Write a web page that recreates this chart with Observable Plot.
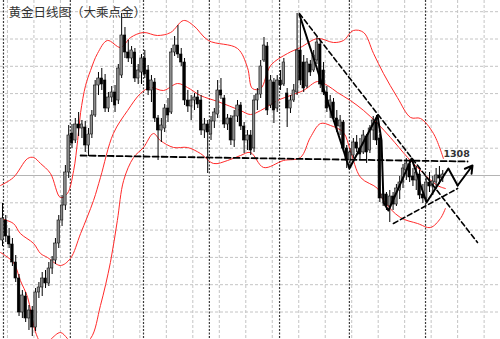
<!DOCTYPE html>
<html><head><meta charset="utf-8">
<script src="https://cdn.jsdelivr.net/npm/d3@7"></script>
<script src="https://cdn.jsdelivr.net/npm/@observablehq/plot@0.6"></script>
<style>html,body{margin:0;padding:0;background:#fff}</style>
</head><body><div id="chart"></div>
<script>
const title = "黄金日线图（大乘点金）";
const levelLabel = "1308";

const openP = [1223,1243,1227,1219,1201,1185,1151,1167,1145,1153,
1136,1171,1176,1185,1180,1195,1203,1220,1243,1258,
1291,1330,1323,1339,1335,1336,1318,1329,1348,1378,
1385,1383,1355,1366,1371,1363,1388,1428,1411,1405,
1411,1385,1391,1405,1393,1373,1381,1345,1333,1335,
1355,1351,1411,1418,1409,1401,1363,1357,1363,1366,
1363,1333,1339,1329,1342,1349,1373,1365,1339,1345,
1323,1347,1358,1337,1323,1328,1315,1363,1369,1403,
1417,1358,1381,1355,1383,1379,1370,1355,1363,1371,
1413,1401,1377,1399,1393,1403,1419,1393,1371,1357,
1361,1345,1337,1341,1315,1303,1308,1321,1315,1311,
1327,1313,1333,1341,1325,1265,1269,1257,1267,1259,
1273,1281,1293,1299,1287,1283,1289,1269,1265,1281,
1277,1281,1288,1285];
const highP = [1260,1248,1235,1225,1208,1189,1173,1171,1158,1157,
1175,1181,1191,1193,1201,1207,1225,1248,1268,1298,
1338,1339,1345,1351,1343,1342,1335,1353,1383,1391,
1395,1389,1371,1377,1378,1399,1450,1436,1423,1417,
1415,1399,1409,1413,1398,1388,1385,1348,1345,1359,
1365,1415,1427,1438,1415,1405,1373,1368,1370,1373,
1368,1345,1343,1347,1355,1383,1385,1368,1349,1348,
1353,1363,1361,1341,1333,1333,1368,1375,1403,1426,
1421,1388,1385,1388,1393,1405,1375,1368,1379,1450,
1443,1408,1405,1403,1413,1426,1423,1401,1377,1368,
1365,1353,1348,1343,1318,1315,1325,1328,1325,1333,
1329,1338,1347,1348,1329,1273,1271,1273,1271,1279,
1287,1299,1305,1303,1295,1297,1293,1279,1287,1291,
1287,1295,1297,1293];
const lowP = [1217,1221,1215,1197,1181,1147,1145,1141,1133,1127,
1132,1165,1167,1175,1177,1189,1199,1215,1237,1253,
1285,1315,1320,1327,1325,1311,1307,1325,1346,1368,
1373,1351,1351,1361,1351,1359,1385,1405,1401,1399,
1381,1379,1379,1385,1368,1361,1341,1303,1321,1331,
1341,1349,1407,1405,1397,1358,1351,1343,1353,1355,
1328,1325,1290,1323,1335,1345,1364,1335,1333,1318,
1316,1341,1333,1310,1313,1308,1311,1353,1365,1401,
1348,1355,1340,1351,1373,1377,1336,1350,1361,1368,
1378,1371,1375,1387,1391,1399,1375,1368,1351,1345,
1341,1331,1328,1311,1295,1298,1305,1311,1303,1309,
1300,1310,1323,1318,1261,1257,1253,1241,1253,1257,
1264,1275,1283,1281,1277,1273,1264,1260,1262,1271,
1268,1274,1279,1281];
const closeP = [1245,1227,1219,1201,1185,1151,1168,1145,1153,1136,
1171,1176,1185,1180,1195,1203,1220,1243,1258,1291,
1328,1320,1339,1335,1339,1318,1329,1348,1378,1385,
1379,1355,1366,1371,1358,1395,1428,1411,1405,1413,
1385,1393,1405,1389,1373,1383,1345,1333,1338,1355,
1348,1411,1418,1409,1401,1363,1357,1363,1366,1359,
1333,1339,1331,1342,1351,1373,1368,1339,1345,1323,
1347,1358,1337,1323,1328,1313,1363,1369,1397,1418,
1353,1383,1353,1383,1378,1401,1355,1363,1373,1413,
1383,1375,1401,1391,1408,1421,1379,1371,1355,1363,
1345,1337,1343,1315,1303,1311,1321,1315,1309,1328,
1311,1335,1343,1323,1265,1269,1258,1267,1259,1275,
1281,1295,1300,1286,1283,1291,1268,1265,1281,1277,
1282,1288,1285,1289];

// Bollinger bands: [bar index, price]
const upperBand = [[-0.6,1278],[3.3,1286],[7.6,1305],[9.4,1306],[11.5,1300],[14.5,1290],[17.5,1266],[19.6,1270],[21.5,1293],[22.7,1323],[23.6,1351],[25.1,1378],[26.6,1393],[28.7,1410],[31.7,1423],[35.7,1416],[38.7,1426],[42.6,1431],[46.8,1428],[50.8,1431],[54.7,1443],[57.7,1438],[62.2,1423],[71,1415],[74,1396],[75.5,1375],[78,1375],[81,1398],[86.1,1410],[90,1416],[95.2,1425],[100,1421],[103,1423],[106,1433],[109.1,1431],[112.1,1410],[115.1,1390],[119.3,1366],[123.3,1346],[126.3,1345],[130.2,1330],[133.2,1305]];
const middleBand = [[-0.6,1245],[3.3,1240],[5.4,1230],[9.4,1220],[11.5,1210],[13.6,1206],[17.5,1198],[20.5,1205],[23.6,1230],[27.5,1263],[29.6,1286],[33.5,1330],[37.8,1353],[41.7,1370],[44.7,1376],[48.6,1373],[52.9,1380],[55.9,1376],[59.8,1368],[65,1362],[71.9,1353],[74.9,1349],[78,1353],[83.1,1363],[87,1368],[90.9,1373],[95.2,1382],[98.2,1378],[101.2,1371],[105.1,1363],[109.1,1353],[113.3,1340],[117.2,1326],[122.4,1306],[126.3,1293],[131.4,1278],[133.8,1275]];
const lowerBand = [[-0.6,1211],[3.3,1201],[5.4,1183],[7.6,1166],[9.4,1138],[10.6,1126],[12.1,1117],[14.5,1124],[17.5,1131],[19.6,1125],[22,1115],[26.6,1125],[29.6,1158],[32.6,1201],[34.7,1243],[36.6,1283],[39.6,1306],[42.6,1316],[45.6,1330],[47.7,1323],[51.7,1316],[55.9,1316],[59.8,1310],[63.8,1300],[68,1303],[71.9,1308],[74.9,1311],[78.9,1296],[84.9,1303],[90,1306],[93,1326],[96.1,1340],[99.1,1338],[103,1331],[105.1,1313],[108.2,1286],[113.3,1275],[115.1,1263],[120.2,1246],[125.4,1240],[129.3,1236],[132.3,1245],[133.8,1255]];

// hand-drawn analysis lines
const zigzag = [[89.7,1449],[104.8,1295],[113.3,1348],[114.5,1323],[115.1,1261],[116.6,1253],[123.6,1305],[128.1,1261],[134.7,1295],[137.5,1278]];
const zigzagArrow = [[137.5,1278],[142,1298]];
const resistanceDown = [[89.7,1450],[143.5,1221]];
const level1308 = [[23.6,1308],[140.5,1302]];
const supportUp = [[118.1,1240],[137.5,1275]];
const labelPos = [133.2,1310];

const priceGrid = [1451.8,1424.5,1397.2,1369.9,1342.6,1315.3,1288,1260.7,1233.4,1206.1,1178.8,1151.5];
const bidPrice = 1288;
const timeGrid = [1.5,9.5,17.5,25.5,33.5,41.5,49.5,57.5,65.5,73.5,81.5,89.5,97.5,105.5,113.5,121.5,129.5,137.5,145.5];
const monthBreaks = [0.3,20.5,42.6,62.5,83.7,104.8,127.8];

const candles = openP.map((o, i) => ({i, o, h: highP[i], l: lowP[i], c: closeP[i]}));
const bulls = candles.filter(d => d.c >= d.o);
const bears = candles.filter(d => d.c < d.o);
const hw = 0.38;

const chart = Plot.plot({
  width: 500, height: 339, margin: 0,
  x: {domain: [-0.6, 150.45], axis: null},
  y: {domain: [1124, 1463], axis: null},
  style: {background: "#fff"},
  marks: [
    Plot.ruleY(priceGrid, {stroke: "#c4c4c4", strokeDasharray: "3,2"}),
    Plot.ruleX(timeGrid, {stroke: "#c4c4c4", strokeDasharray: "3,2"}),
    Plot.ruleX(monthBreaks, {stroke: "#3a3a3a", strokeDasharray: "2,1.5", strokeWidth: 1.2}),
    Plot.ruleY([bidPrice], {stroke: "#b4b4b4", strokeWidth: 1}),
    Plot.line(upperBand, {x: d => d[0], y: d => d[1], stroke: "#ff2a2a", strokeWidth: 1, curve: "catmull-rom", clip: true}),
    Plot.line(middleBand, {x: d => d[0], y: d => d[1], stroke: "#ff2a2a", strokeWidth: 1, curve: "catmull-rom", clip: true}),
    Plot.line(lowerBand, {x: d => d[0], y: d => d[1], stroke: "#ff2a2a", strokeWidth: 1, curve: "catmull-rom", clip: true}),
    Plot.ruleX(candles, {x: "i", y1: "l", y2: "h", stroke: "#000", strokeWidth: 1}),
    Plot.rect(bulls, {x1: d => d.i - hw, x2: d => d.i + hw, y1: "o", y2: "c", fill: "#8c8c8c", stroke: "#111", strokeWidth: 0.6}),
    Plot.rect(bears, {x1: d => d.i - hw, x2: d => d.i + hw, y1: "o", y2: "c", fill: "#000", stroke: "#000", strokeWidth: 0.6}),
    Plot.line(level1308, {x: d => d[0], y: d => d[1], stroke: "#000", strokeWidth: 1.8, strokeDasharray: "6,3"}),
    Plot.line(resistanceDown, {x: d => d[0], y: d => d[1], stroke: "#000", strokeWidth: 1.6, strokeDasharray: "5,3"}),
    Plot.line(supportUp, {x: d => d[0], y: d => d[1], stroke: "#000", strokeWidth: 1.6, strokeDasharray: "5,3"}),
    Plot.line(zigzag, {x: d => d[0], y: d => d[1], stroke: "#000", strokeWidth: 2}),
    Plot.arrow([zigzagArrow], {x1: d => d[0][0], y1: d => d[0][1], x2: d => d[1][0], y2: d => d[1][1], stroke: "#000", strokeWidth: 2, headLength: 7}),
    Plot.text([levelLabel], {x: labelPos[0], y: labelPos[1], text: d => d, textAnchor: "start", lineAnchor: "middle", fontSize: 9.5, fontWeight: "bold", fill: "#333", fontFamily: "DejaVu Sans, sans-serif"}),
    Plot.text([title], {frameAnchor: "top-left", dx: 8, dy: 12, text: d => d, textAnchor: "start", lineAnchor: "middle", fontSize: 12.5, fill: "#333", fontFamily: "'Noto Sans CJK SC', sans-serif"})
  ]
});
document.getElementById("chart").appendChild(chart);
</script>
</body></html>
